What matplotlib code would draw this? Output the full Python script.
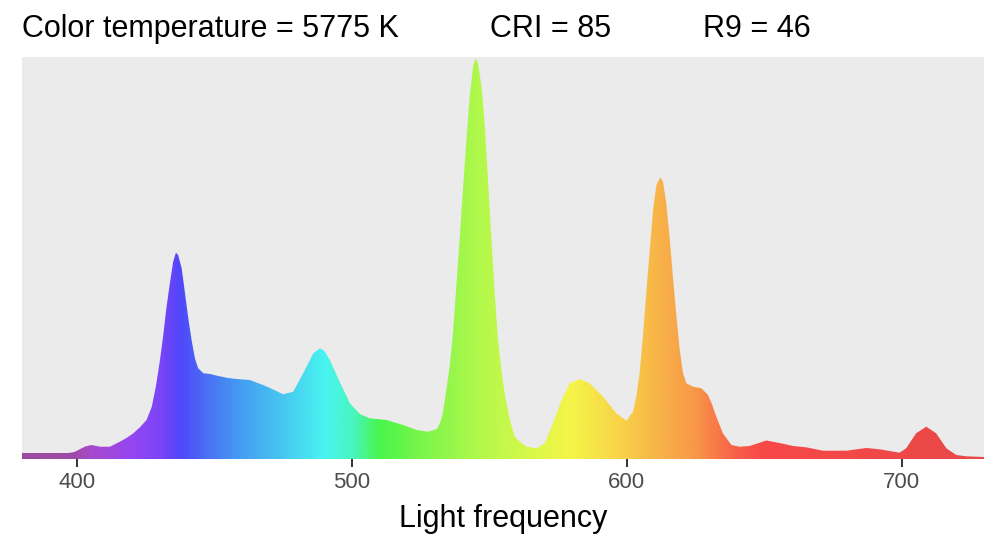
import numpy as np
import matplotlib
matplotlib.use('Agg')
import matplotlib.pyplot as plt
from matplotlib.colors import LinearSegmentedColormap
from matplotlib.patches import Polygon

# spectrum (wavelength in nm, intensity in arbitrary units)
wavelength = [380, 390, 397, 399, 400.5, 403, 405.3, 408.4, 412, 415.6, 418, 420.5,
              423, 425.3, 427.2, 428.7, 430.2, 431.4, 432.6, 433.8, 435, 436,
              436.8, 438.1, 439.3, 440.5, 441.7, 442.9, 444.1, 446, 448.4, 451.4,
              455, 458, 462.9, 467.7, 471, 475, 478.7, 482.3, 486, 488.4, 490,
              492, 495.6, 499.3, 502.9, 506.5, 512.6, 518.7, 523.5, 527.8, 531,
              532.4, 533.2, 534.4, 535.6, 536.8, 538.1, 539.3, 540.5, 541.7,
              542.9, 544.1, 545, 545.9, 547.2, 548.4, 549.6, 550.8, 552, 553.2,
              554.4, 555.6, 557.5, 559.3, 561.1, 563.5, 567.2, 570.2, 573.2,
              576.3, 579.3, 582.9, 586.5, 591.4, 596.2, 599.9, 602.3, 603.5,
              604.7, 605.9, 607.2, 608.4, 609.6, 610.8, 612.3, 613.2, 614.4,
              615.6, 616.8, 618.1, 619.3, 620.5, 621.7, 624.1, 627.2, 629.6, 631,
              632.6, 635, 638.1, 641, 644.7, 650.8, 655.6, 660.5, 665.3, 671.4,
              679.9, 687.2, 692, 699.3, 701.7, 705.3, 709, 712.6, 716.3, 719.9,
              723.5, 730]
intensity = [6, 6, 6, 7, 9, 12.5, 14, 12.3, 12.3, 17.3, 21, 25.7,
             32, 39, 52, 72.3, 99, 124, 152.3, 175.7, 197.3, 206.3,
             204, 190.7, 165.7, 140.7, 119, 100.7, 90.7, 85.7, 85, 83,
             81, 80, 79, 74, 70, 64.7, 67.3, 85.7, 105.7, 110.7, 108,
             99, 77, 55.7, 45, 40.7, 39, 34, 29, 27.3, 30,
             38, 47.3, 69, 92.3, 125.7, 175.7, 222.3, 272.3, 319,
             362.3, 392.3, 400.7, 395.7, 372.3, 332.3, 275.7, 219, 165.7, 119,
             89, 65.7, 39, 22.3, 17.3, 12.3, 10.7, 15.7, 35.7,
             59, 75.7, 80, 75.7, 62.3, 45.7, 38.3, 47.3, 62.3,
             85.7, 122.3, 169, 209, 249, 274, 281.7, 277.3, 255.7,
             222.3, 182.3, 142.3, 109, 85.7, 75.7, 72.3, 70.7, 64, 55,
             42.3, 25.7, 14, 12.3, 13, 18.5, 16, 13, 11.7, 8.3,
             8.3, 11, 9.7, 6.3, 10.7, 25.7, 32.3, 25.7, 10.7, 4,
             2.7, 2]

title_cct = 'Color temperature = 5775 K'
title_cri = 'CRI = 85'
title_r9 = 'R9 = 46'
x_ticks = [400, 500, 600, 700]

# colour of the fill along the wavelength axis
grad_nm = [380, 398, 405, 420, 430, 437, 445, 460, 475, 490, 500, 510, 525,
           545, 565, 580, 595, 610, 625, 640, 650, 700, 730]
grad_col = ['#9B4A9F', '#9E4AA8', '#A84ACF', '#9446F2', '#7A44F8', '#4F47FA',
            '#4A6AF5', '#45A0F2', '#48C8F0', '#48F5F0', '#48F5C0', '#4AF54A',
            '#7AF54A', '#AEF84A', '#D8F84A', '#F5F548', '#F8D848', '#F8B848',
            '#F89848', '#F86048', '#F84848', '#EE4848', '#E84848']

plt.rcParams['font.family'] = ['Liberation Sans', 'DejaVu Sans']

fig = plt.figure(figsize=(10, 5.48), dpi=100)
ax = fig.add_axes([0.022, 1 - 459 / 548, 0.962, 402 / 548])
ax.set_facecolor('#EBEBEB')

xmin, xmax = 380, 730
ytop = 402
ax.set_xlim(xmin, xmax)
ax.set_ylim(0, ytop)

pos = [(a - xmin) / (xmax - xmin) for a in grad_nm]
cmap = LinearSegmentedColormap.from_list('spec', list(zip(pos, grad_col)))
grad = np.linspace(0, 1, 700).reshape(1, -1)
im = ax.imshow(grad, extent=[xmin, xmax, 0, ytop], aspect='auto', cmap=cmap,
               interpolation='bilinear', zorder=2)

pts = [(wavelength[0], 0)] + list(zip(wavelength, intensity)) + [(wavelength[-1], 0)]
poly = Polygon(pts, closed=True, facecolor='none', edgecolor='none', transform=ax.transData)
ax.add_patch(poly)
im.set_clip_path(poly)

for s in ax.spines.values():
    s.set_visible(False)
ax.set_yticks([])
ax.set_xticks(x_ticks)
ax.tick_params(axis='x', length=5.5, width=1.4, color='#333333', labelcolor='#4D4D4D',
               labelsize=16, pad=4)

fig.text(0.022, 1 - 36.7 / 548, title_cct, fontsize=22, va='baseline', ha='left')
fig.text(0.490, 1 - 36.7 / 548, title_cri, fontsize=22, va='baseline', ha='left')
fig.text(0.703, 1 - 36.7 / 548, title_r9, fontsize=22, va='baseline', ha='left')
fig.text(0.503, 1 - 527 / 548, 'Light frequency', fontsize=22, va='baseline', ha='center')

fig.savefig('out.png', dpi=100)
